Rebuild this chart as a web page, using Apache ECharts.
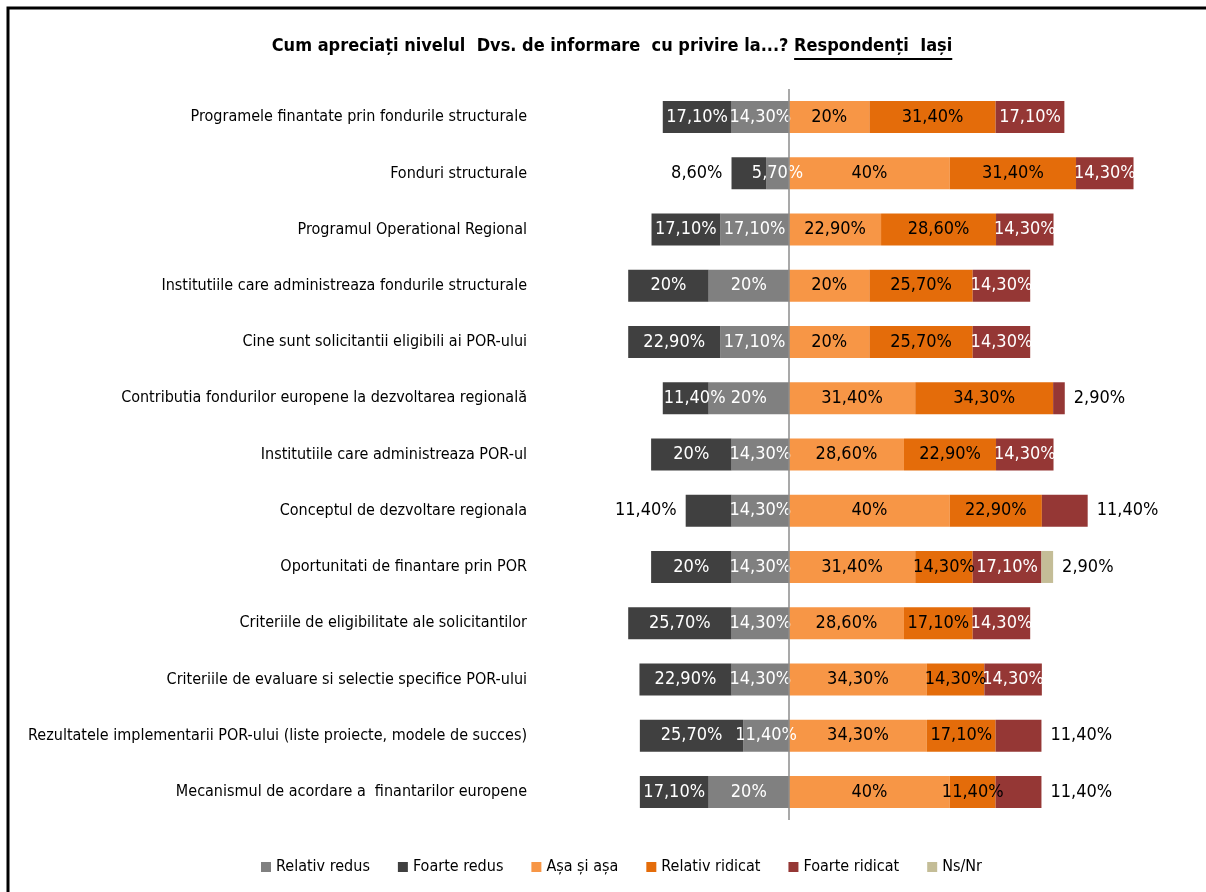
<!DOCTYPE html>
<html>
<head>
<meta charset="utf-8">
<script src="https://cdn.jsdelivr.net/npm/echarts@6/dist/echarts.min.js"></script>
<style>
html, body { margin: 0; padding: 0; background: #fff; }
#chart { width: 1206px; height: 892px; }
</style>
</head>
<body>
<div id="chart"></div>
<script>
// categorii (de sus in jos)
const categories = [
  'Programele finantate prin fondurile structurale',
  'Fonduri structurale',
  'Programul Operational Regional',
  'Institutiile care administreaza fondurile structurale',
  'Cine sunt solicitantii eligibili ai POR-ului',
  'Contributia fondurilor europene la dezvoltarea regională',
  'Institutiile care administreaza POR-ul',
  'Conceptul de dezvoltare regionala',
  'Oportunitati de finantare prin POR',
  'Criteriile de eligibilitate ale solicitantilor',
  'Criteriile de evaluare si selectie specifice POR-ului',
  'Rezultatele implementarii POR-ului (liste proiecte, modele de succes)',
  'Mecanismul de acordare a  finantarilor europene'
];

// procente
const relativRedus   = [14.3, 5.7, 17.1, 20, 17.1, 20, 14.3, 14.3, 14.3, 14.3, 14.3, 11.4, 20];
const foarteRedus    = [17.1, 8.6, 17.1, 20, 22.9, 11.4, 20, 11.4, 20, 25.7, 22.9, 25.7, 17.1];
const asaSiAsa       = [20, 40, 22.9, 20, 20, 31.4, 28.6, 40, 31.4, 28.6, 34.3, 34.3, 40];
const relativRidicat = [31.4, 31.4, 28.6, 25.7, 25.7, 34.3, 22.9, 22.9, 14.3, 17.1, 14.3, 17.1, 11.4];
const foarteRidicat  = [17.1, 14.3, 14.3, 14.3, 14.3, 2.9, 14.3, 11.4, 17.1, 14.3, 14.3, 11.4, 11.4];
const nsNr           = [null, null, null, null, null, null, null, null, 2.9, null, null, null, null];

// etichete puse in afara barei (indici de rand)
const outsideLabels = {
  'Foarte redus': [1, 7],
  'Foarte ridicat': [5, 7, 11, 12],
  'Ns/Nr': [8]
};
// eticheta mutata putin spre centru (ca in Excel)
const shiftedLabels = {
  'Foarte redus': [5]
};

const FONT = '"DejaVu Sans Condensed", "Liberation Sans Narrow", sans-serif';

let fmt = function (v) {
  v = Math.abs(v);
  if (Math.round(v) === v) return v + '%';
  return v.toFixed(2).replace('.', ',') + '%';
};

let mkSeries = function (name, values, color, textColor, sign) {
  let outside = outsideLabels[name] || [];
  let shifted = shiftedLabels[name] || [];
  return {
    name: name,
    type: 'bar',
    stack: 'total',
    barWidth: 32,
    itemStyle: { color: color },
    label: {
      show: true,
      position: 'inside',
      color: textColor,
      fontFamily: FONT,
      fontSize: 18,
      formatter: p => fmt(p.value)
    },
    data: values.map((v, i) => {
      if (v == null) return null;
      let item = { value: sign * v };
      if (outside.indexOf(i) >= 0) {
        item.label = { position: sign < 0 ? 'left' : 'right', color: '#000', distance: 9 };
      }
      if (shifted.indexOf(i) >= 0) {
        item.label = { offset: [-sign * 9, 0] };
      }
      return item;
    })
  };
};

let series = [
  mkSeries('Relativ redus', relativRedus, '#808080', '#fff', -1),
  mkSeries('Foarte redus', foarteRedus, '#404040', '#fff', -1),
  mkSeries('Așa și așa', asaSiAsa, '#F79646', '#000', 1),
  mkSeries('Relativ ridicat', relativRidicat, '#E46C0A', '#000', 1),
  mkSeries('Foarte ridicat', foarteRidicat, '#953735', '#fff', 1),
  mkSeries('Ns/Nr', nsNr, '#C4BD97', '#000', 1)
];
// linia verticala din centru
series[0].markLine = {
  silent: true,
  symbol: 'none',
  label: { show: false },
  lineStyle: { color: '#8c8c8c', width: 1.5, type: 'solid' },
  data: [{ xAxis: 0 }]
};

// titlul: partea subliniata
const titleA = 'Cum apreciați nivelul  Dvs. de informare  cu privire la...? ';
const titleB = 'Respondenți  Iași';
const titleFont = 'bold 18px ' + FONT;
let ctx = document.createElement('canvas').getContext('2d');
ctx.font = titleFont;
let wA = ctx.measureText(titleA).width;
let wB = ctx.measureText(titleB).width;
let tx = 612 - (wA + wB) / 2;

let options = {
  animation: false,
  backgroundColor: '#fff',
  grid: { left: 588, width: 603, top: 89, height: 731, containLabel: false, outerBoundsMode: 'none' },
  xAxis: { type: 'value', min: -50, max: 100, show: false },
  yAxis: {
    type: 'category',
    inverse: true,
    data: categories,
    axisLine: { show: false },
    axisTick: { show: false },
    axisLabel: { margin: 61, color: '#000', fontFamily: FONT, fontSize: 16 }
  },
  legend: {
    top: 854,
    left: 256,
    itemWidth: 10,
    itemHeight: 10,
    itemGap: 28,
    icon: 'rect',
    textStyle: { color: '#000', fontFamily: FONT, fontSize: 16 }
  },
  graphic: [
    {
      type: 'polyline',
      shape: { points: [[8, 892], [8, 8], [1206, 8]] },
      style: { stroke: '#000', lineWidth: 3, fill: null }
    },
    {
      type: 'text',
      left: tx, top: 37,
      style: { text: titleA, font: titleFont, fill: '#000' }
    },
    {
      type: 'text',
      left: tx + wA, top: 37,
      style: { text: titleB, font: titleFont, fill: '#000' }
    },
    {
      type: 'rect',
      shape: { x: tx + wA, y: 58, width: wB, height: 2 },
      style: { fill: '#000' }
    }
  ],
  series: series
};

let chart = echarts.init(document.getElementById('chart'));
chart.setOption(options);
</script>
</body>
</html>
